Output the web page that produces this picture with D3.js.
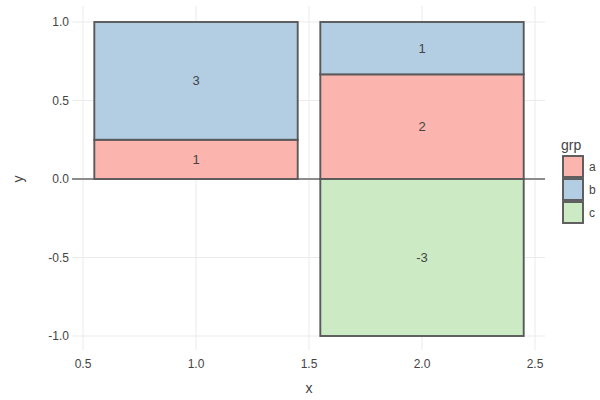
<!DOCTYPE html>
<html><head><meta charset="utf-8">
<script src="https://cdn.jsdelivr.net/npm/d3@7"></script>
<style>body{margin:0;background:#fff}svg{display:block}text{font-family:"Liberation Sans",Arial,sans-serif}</style>
</head><body><svg id="c" width="600" height="400"></svg>
<script>
const xCats = [1, 2];
const groups = ["a", "b", "c"];
const valuesA = [1, 2];
const valuesB = [3, 1];
const valuesC = [0, -3];
const colors = ["#FBB4AE", "#B3CDE3", "#CCEBC5"];
const xTicks = [0.5, 1.0, 1.5, 2.0, 2.5];
const yTicks = [-1.0, -0.5, 0.0, 0.5, 1.0];

const svg = d3.select("#c");
const L = 72, R = 545, T = 6, B = 350;
const x = d3.scaleLinear().domain([0.4513, 2.5442]).range([L, R]);
const y = d3.scaleLinear().domain([-1.0892, 1.1019]).range([B, T]);
const fill = d3.scaleOrdinal().domain(groups).range(colors);
const fmt = d => d3.format(".1f")(d).replace("\u2212", "-");

// grid
const g = svg.append("g");
g.selectAll(".vg").data(xTicks).join("line")
  .attr("x1", d => x(d)).attr("x2", d => x(d)).attr("y1", T).attr("y2", B)
  .attr("stroke", "#ebebeb").attr("stroke-width", 1);
g.selectAll(".hg").data(yTicks).join("line")
  .attr("x1", L).attr("x2", R).attr("y1", d => y(d)).attr("y2", d => y(d))
  .attr("stroke", "#ebebeb").attr("stroke-width", 1);
// zero line
g.append("line").attr("x1", L).attr("x2", R).attr("y1", y(0)).attr("y2", y(0))
  .attr("stroke", "#8c8c8c").attr("stroke-width", 2);

// compute normalized stacks (position fill)
const segs = [];
xCats.forEach((c, i) => {
  const vals = {a: valuesA[i], b: valuesB[i], c: valuesC[i]};
  const posTot = d3.sum(groups, k => Math.max(0, vals[k]));
  const negTot = d3.sum(groups, k => Math.min(0, vals[k]));
  let pos = 0, neg = 0;
  groups.forEach(k => {
    const v = vals[k];
    if (v > 0) { const f = v / posTot; segs.push({c, k, v, y0: pos, y1: pos + f}); pos += f; }
    else if (v < 0) { const f = v / -negTot; segs.push({c, k, v, y0: neg + f, y1: neg}); neg += f; }
  });
});
const bw = 0.9;
svg.append("g").selectAll("rect").data(segs).join("rect")
  .attr("x", d => x(d.c - bw / 2)).attr("width", d => x(d.c + bw / 2) - x(d.c - bw / 2))
  .attr("y", d => y(d.y1)).attr("height", d => y(d.y0) - y(d.y1))
  .attr("fill", d => fill(d.k)).attr("stroke", "#595959").attr("stroke-width", 1.9);
svg.append("g").selectAll("text").data(segs).join("text")
  .attr("x", d => x(d.c)).attr("y", d => y((d.y0 + d.y1) / 2)).attr("dy", "0.35em")
  .attr("text-anchor", "middle").attr("font-size", 13).attr("fill", "#444")
  .text(d => String(d.v));

// tick labels
svg.append("g").selectAll("text").data(xTicks).join("text")
  .attr("x", d => x(d)).attr("y", 364).attr("dy", "0.35em").attr("text-anchor", "middle")
  .attr("font-size", 12).attr("fill", "#444").text(fmt);
svg.append("g").selectAll("text").data(yTicks).join("text")
  .attr("x", 69).attr("y", d => y(d)).attr("dy", "0.35em").attr("text-anchor", "end")
  .attr("font-size", 12).attr("fill", "#444").text(fmt);

// axis titles
svg.append("text").attr("x", x(1.5)).attr("y", 388).attr("dy", "0.35em").attr("text-anchor", "middle")
  .attr("font-size", 14).attr("fill", "#444").text("x");
svg.append("text").attr("transform", `translate(18,${y(0)}) rotate(-90)`).attr("dy", "0.35em")
  .attr("text-anchor", "middle").attr("font-size", 14).attr("fill", "#444").text("y");

// legend
const lg = svg.append("g");
lg.append("text").attr("x", 561).attr("y", 145).attr("dy", "0.35em").attr("font-size", 14)
  .attr("fill", "#444").text("grp");
groups.forEach((k, i) => {
  const yy = 156 + i * 23;
  lg.append("rect").attr("x", 563).attr("y", yy).attr("width", 20).attr("height", 21)
    .attr("fill", fill(k)).attr("stroke", "#595959").attr("stroke-width", 1.9);
  lg.append("text").attr("x", 589).attr("y", yy + 10.5).attr("dy", "0.35em").attr("font-size", 12)
    .attr("fill", "#444").text(k);
});
</script></body></html>
